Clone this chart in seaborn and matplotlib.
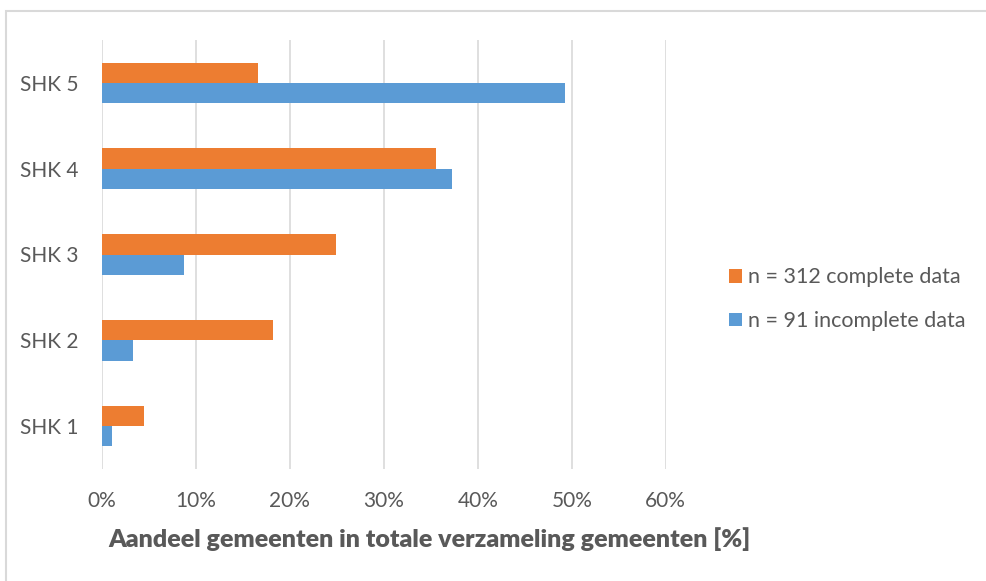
import matplotlib
matplotlib.use("Agg")
import matplotlib.pyplot as plt
import matplotlib.patches as mpatches
from matplotlib.ticker import PercentFormatter, MultipleLocator
import seaborn as sns
import pandas as pd

categories = ["SHK 5", "SHK 4", "SHK 3", "SHK 2", "SHK 1"]
series_names = ["n = 312 complete data", "n = 91 incomplete data"]
complete = [0.166, 0.355, 0.249, 0.182, 0.045]
incomplete = [0.493, 0.373, 0.087, 0.033, 0.011]
x_label = "Aandeel gemeenten in totale verzameling gemeenten [%]"

colors = ["#ED7D31", "#5B9BD5"]
text_color = "#595959"
grid_color = "#D9D9D9"

df = pd.DataFrame({
    "category": categories * 2,
    "series": [series_names[0]] * len(categories) + [series_names[1]] * len(categories),
    "value": complete + incomplete,
})

sns.set_theme(style="white")
plt.rcParams["font.family"] = ["Lato", "DejaVu Sans"]

fig = plt.figure(figsize=(9.87, 5.81), dpi=100)
ax = fig.add_axes([102 / 987, 1 - 469 / 581, 563.7 / 987, 429 / 581])

sns.barplot(data=df, y="category", x="value", hue="series", order=categories,
            hue_order=series_names, palette=colors, orient="h", width=0.474,
            linewidth=0, saturation=1, ax=ax, legend=False)

ax.set_xlim(0, 0.6)
ax.set_ylim(4.5, -0.5)
ax.xaxis.set_major_locator(MultipleLocator(0.1))
ax.xaxis.set_major_formatter(PercentFormatter(1.0, decimals=0))
ax.grid(axis="x", color=grid_color, linewidth=1.2)
ax.grid(axis="y", visible=False)
ax.set_axisbelow(True)
for s in ax.spines.values():
    s.set_visible(False)
ax.tick_params(axis="both", length=0, labelsize=15, labelcolor=text_color)
ax.tick_params(axis="x", pad=16)
ax.tick_params(axis="y", pad=17)
ax.set_ylabel("")
ax.set_xlabel(x_label, fontsize=18, fontweight="heavy", color=text_color, va="center")
ax.xaxis.set_label_coords((429 - 102) / 563.7, (469 - 539) / 429)

handles = [mpatches.Patch(facecolor=c, edgecolor="none") for c in colors]
fig.legend(handles, series_names, loc="center left",
           bbox_to_anchor=(729 / 987, 1 - 299.2 / 581), frameon=False,
           fontsize=15.5, labelcolor=text_color, handlelength=0.6, handleheight=0.6,
           handletextpad=0.3, labelspacing=1.1, borderpad=0, borderaxespad=0)

border = mpatches.Rectangle((6 / 987, -0.05), 1.0, 1.05 - 11 / 581,
                            transform=fig.transFigure, fill=False,
                            edgecolor=grid_color, linewidth=1.5, clip_on=False)
fig.add_artist(border)

fig.savefig("out.png", dpi=100)
